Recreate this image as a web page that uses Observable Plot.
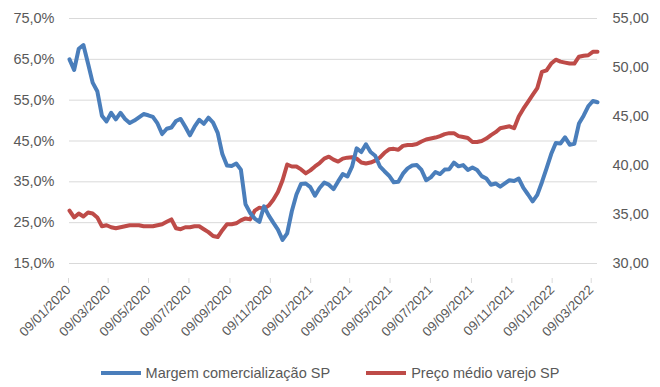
<!DOCTYPE html>
<html>
<head>
<meta charset="utf-8">
<script src="https://cdn.jsdelivr.net/npm/d3@7"></script>
<script src="https://cdn.jsdelivr.net/npm/@observablehq/plot@0.6"></script>
<style>
  html, body { margin: 0; padding: 0; background: #fff; }
  #chart { width: 660px; height: 387px; position: relative; font-family: "Liberation Sans", Arial, sans-serif; }
  .legend { display: flex; justify-content: center; align-items: center; height: 37px; padding-top: 8px; box-sizing: border-box; font-size: 14.5px; color: #595959; }
  .item { display: flex; align-items: center; margin: 0 18px; }
  .sw { width: 40px; height: 4px; margin-right: 5px; }
</style>
</head>
<body>
<div id="chart"></div>
<script>
// Weekly observations starting 09/01/2020
const startDate = "2020-01-09";
const seriesNames = ["Margem comercialização SP", "Preço médio varejo SP"];
const seriesColors = ["#4a7ebb", "#be4b48"];

// Margem comercialização SP (%, left axis)
const margem = [
  65.0, 62.4, 67.6, 68.5, 64.0, 59.3, 57.2, 51.2, 49.8, 51.9,
  50.3, 51.9, 50.4, 49.4, 50.0, 50.8, 51.6, 51.3, 50.9, 49.3,
  46.7, 48.0, 48.3, 49.9, 50.4, 48.5, 46.4, 48.5, 50.2, 49.2,
  50.7, 49.5, 47.0, 41.8, 39.0, 38.9, 39.5, 38.0, 29.5, 27.4,
  26.0, 25.2, 29.0, 26.8, 25.0, 23.3, 20.8, 22.4, 27.8, 31.9,
  34.5, 34.6, 33.7, 31.6, 33.5, 34.8, 34.3, 33.2, 35.1, 36.9,
  36.3, 38.7, 43.2, 42.3, 44.2, 42.3, 41.4, 38.8, 37.6, 36.5,
  34.9, 35.0, 37.0, 38.3, 39.0, 39.1, 37.9, 35.4, 36.1, 37.4,
  36.9, 38.0, 38.1, 39.7, 38.8, 39.1, 37.9, 38.5, 37.9, 36.4,
  35.8, 34.3, 34.6, 33.8, 34.6, 35.4, 35.2, 35.8, 33.5, 31.9,
  30.2, 31.8, 34.9, 38.3, 41.8, 44.5, 44.4, 45.9, 44.1, 44.3,
  49.3, 51.2, 53.5, 54.8, 54.5
];

// Preço médio varejo SP (R$, right axis)
const preco = [
  35.4, 34.7, 35.1, 34.8, 35.2, 35.1, 34.7, 33.8, 33.9, 33.7,
  33.6, 33.7, 33.8, 33.9, 33.9, 33.9, 33.8, 33.8, 33.8, 33.9,
  34.0, 34.25, 34.5, 33.6, 33.5, 33.7, 33.7, 33.8, 33.8, 33.5,
  33.2, 32.8, 32.7, 33.4, 34.0, 34.0, 34.1, 34.4, 34.6, 34.5,
  35.4, 35.7, 35.6, 35.9, 36.5, 37.3, 38.5, 40.1, 39.9, 39.9,
  39.6, 39.2, 39.5, 39.9, 40.25, 40.7, 40.9, 40.6, 40.4, 40.7,
  40.8, 40.85, 40.7, 40.3, 40.2, 40.3, 40.5, 40.8, 41.3, 41.65,
  41.7, 41.6, 42.0, 42.1, 42.1, 42.2, 42.45, 42.65, 42.75, 42.85,
  43.0, 43.2, 43.3, 43.3, 43.0, 42.9, 42.8, 42.4, 42.4, 42.5,
  42.75, 43.1, 43.4, 43.8, 43.9, 44.0, 43.8, 45.0, 45.8, 46.5,
  47.2, 47.9, 49.55, 49.7, 50.4, 50.8, 50.6, 50.5, 50.4, 50.4,
  51.1, 51.2, 51.25, 51.6, 51.6
];

const xTickLabels = ["09/01/2020","09/03/2020","09/05/2020","09/07/2020","09/09/2020","09/11/2020",
  "09/01/2021","09/03/2021","09/05/2021","09/07/2021","09/09/2021","09/11/2021","09/01/2022","09/03/2022"];
const leftTicks = [15, 25, 35, 45, 55, 65, 75];
const rightTicks = [30, 35, 40, 45, 50, 55];

const parseDMY = s => { const [d, m, y] = s.split("/").map(Number); return new Date(Date.UTC(y, m - 1, d)); };
const fmtDMY = d => d3.utcFormat("%d/%m/%Y")(d);
const start = new Date(startDate + "T00:00:00Z");
const dates = margem.map((_, i) => d3.utcDay.offset(start, 7 * i));

// map right-axis values onto left scale
const r2l = v => 15 + (v - 30) * (60 / 25);
const l2r = v => (v - 15) * (25 / 60) + 30;

const rows = dates.map((d, i) => ({date: d, value: margem[i], series: seriesNames[0]}));
const rowsR = dates.map((d, i) => ({date: d, value: r2l(preco[i]), series: seriesNames[1]}));

const xTicks = xTickLabels.map(parseDMY);

const plot = Plot.plot({
  width: 660,
  height: 350,
  marginLeft: 69,
  marginRight: 63,
  marginTop: 18,
  marginBottom: 87,
  style: {fontFamily: "Liberation Sans, Arial, sans-serif", fontSize: "14.5px", color: "#595959", background: "#fff"},
  x: {type: "utc", domain: [dates[0], dates[dates.length - 1]]},
  y: {domain: [15, 75]},
  marks: [
    Plot.ruleY(leftTicks, {stroke: "#d9d9d9", strokeWidth: 1}),
    Plot.axisY(leftTicks, {anchor: "left", tickSize: 0, tickPadding: 15, tickFormat: d => d.toFixed(1).replace(".", ",") + "%", label: null, fill: "#595959", fontSize: 14.5}),
    Plot.axisY(rightTicks.map(r2l), {anchor: "right", tickSize: 0, tickPadding: 15, tickFormat: d => l2r(d).toFixed(2).replace(".", ","), label: null, fill: "#595959", fontSize: 14.5, textAnchor: "start"}),
    Plot.axisX(xTicks, {tickSize: 5, stroke: "#d9d9d9", tickRotate: -45, tickFormat: fmtDMY, label: null, fill: "#595959", fontSize: 13.2, tickPadding: 4, dy: 15, dx: -1, textAnchor: "end"}),
    Plot.line(rowsR, {x: "date", y: "value", stroke: seriesColors[1], strokeWidth: 4, curve: "linear"}),
    Plot.line(rows, {x: "date", y: "value", stroke: seriesColors[0], strokeWidth: 4, curve: "linear"})
  ]
});

const chart = document.getElementById("chart");
chart.appendChild(plot);

const legend = document.createElement("div");
legend.className = "legend";
seriesNames.forEach((n, i) => {
  const it = document.createElement("div");
  it.className = "item";
  const sw = document.createElement("div");
  sw.className = "sw";
  sw.style.background = seriesColors[i];
  const t = document.createElement("span");
  t.textContent = n;
  it.appendChild(sw); it.appendChild(t);
  legend.appendChild(it);
});
chart.appendChild(legend);
</script>
</body>
</html>
